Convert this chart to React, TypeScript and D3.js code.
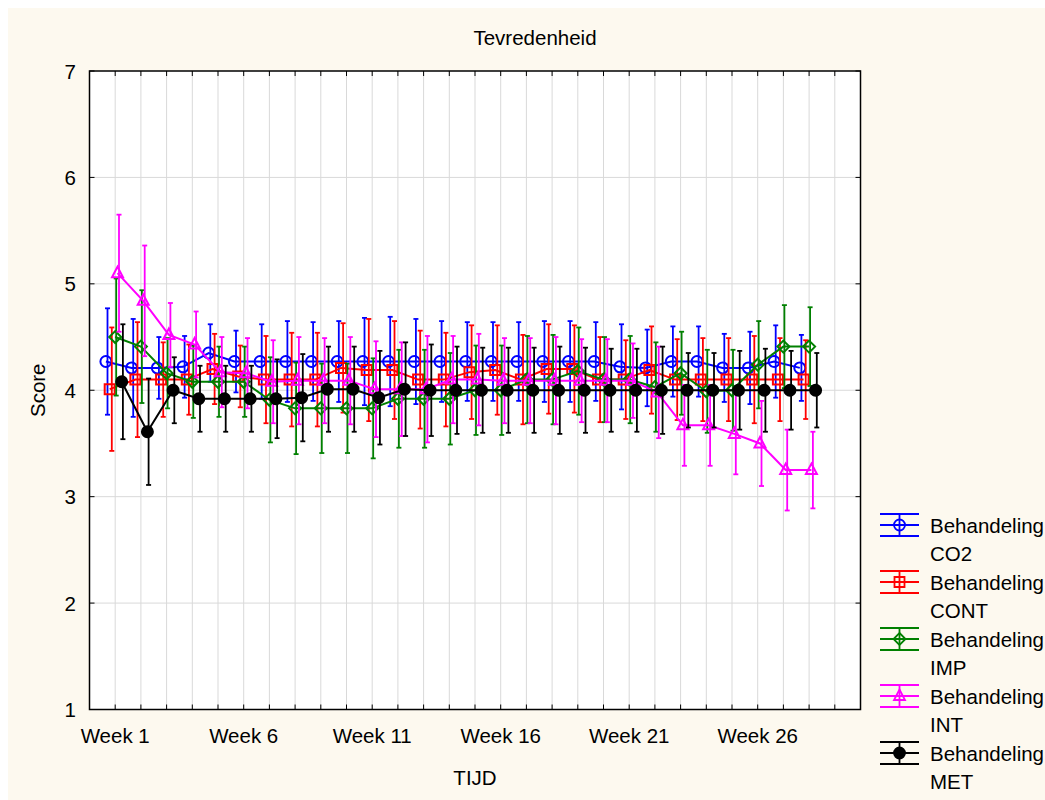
import React from "react";
import * as d3 from "d3";

// Weeks on the TIJD axis and the labelled ones
const weeks = [1, 2, 3, 4, 5, 6, 7, 8, 9, 10, 11, 12, 13, 14, 15, 16, 17, 18, 19, 20, 21, 22, 23, 24, 25, 26, 27, 28];
const gridWeeks = [1, 2, 3, 4, 5, 6, 7, 8, 9, 10, 11, 12, 13, 14, 15, 16, 17, 18, 19, 20, 21, 22, 23, 24, 25, 26, 27, 28, 29];
const labelWeeks = [1, 6, 11, 16, 21, 26];
const scoreTicks = [1, 2, 3, 4, 5, 6, 7];

// Mean score per week and half-width of the interval, per treatment group
const co2Mean = [4.27, 4.21, 4.21, 4.22, 4.35, 4.27, 4.27, 4.27, 4.27, 4.27, 4.27, 4.27, 4.27, 4.27, 4.27, 4.27, 4.27, 4.27, 4.27, 4.27, 4.22, 4.21, 4.27, 4.27, 4.21, 4.21, 4.27, 4.21];
const co2Ci = [0.5, 0.46, 0.29, 0.29, 0.27, 0.29, 0.35, 0.38, 0.37, 0.38, 0.41, 0.42, 0.4, 0.38, 0.37, 0.37, 0.37, 0.38, 0.38, 0.37, 0.4, 0.36, 0.33, 0.33, 0.32, 0.34, 0.34, 0.31];

const contMean = [4.01, 4.1, 4.1, 4.1, 4.2, 4.13, 4.1, 4.1, 4.1, 4.21, 4.19, 4.19, 4.1, 4.1, 4.17, 4.19, 4.1, 4.2, 4.2, 4.1, 4.1, 4.19, 4.1, 4.1, 4.1, 4.1, 4.1, 4.1];
const contCi = [0.58, 0.54, 0.35, 0.33, 0.33, 0.29, 0.41, 0.44, 0.44, 0.42, 0.48, 0.46, 0.46, 0.44, 0.44, 0.42, 0.42, 0.42, 0.41, 0.4, 0.37, 0.41, 0.38, 0.39, 0.39, 0.41, 0.39, 0.37];

const impMean = [4.5, 4.41, 4.16, 4.08, 4.08, 4.08, 3.91, 3.83, 3.83, 3.83, 3.83, 3.92, 3.92, 3.92, 4.0, 4.0, 4.1, 4.1, 4.18, 4.1, 4.1, 4.03, 4.16, 3.99, 4.0, 4.24, 4.41, 4.41];
const impCi = [0.55, 0.53, 0.33, 0.34, 0.33, 0.33, 0.4, 0.43, 0.42, 0.42, 0.47, 0.46, 0.46, 0.43, 0.42, 0.42, 0.41, 0.42, 0.41, 0.4, 0.41, 0.42, 0.39, 0.39, 0.38, 0.41, 0.39, 0.37];

const intMean = [5.1, 4.84, 4.52, 4.43, 4.17, 4.16, 4.08, 4.09, 4.09, 4.09, 4.01, 4.01, 4.01, 4.1, 4.1, 4.09, 4.09, 4.09, 4.09, 4.09, 4.09, 3.98, 3.67, 3.67, 3.59, 3.5, 3.25, 3.25];
const intCi = [0.55, 0.52, 0.3, 0.31, 0.33, 0.33, 0.39, 0.41, 0.4, 0.41, 0.45, 0.44, 0.5, 0.41, 0.43, 0.4, 0.4, 0.41, 0.39, 0.39, 0.35, 0.43, 0.38, 0.38, 0.38, 0.4, 0.38, 0.36];

const metMean = [4.08, 3.61, 4.0, 3.92, 3.92, 3.92, 3.92, 3.93, 4.01, 4.01, 3.93, 4.01, 4.0, 4.0, 4.0, 4.0, 4.0, 4.0, 4.0, 4.0, 4.0, 4.0, 4.0, 4.0, 4.0, 4.0, 4.0, 4.0];
const metCi = [0.54, 0.5, 0.31, 0.31, 0.31, 0.31, 0.37, 0.41, 0.4, 0.4, 0.44, 0.44, 0.43, 0.41, 0.4, 0.4, 0.4, 0.41, 0.4, 0.39, 0.39, 0.41, 0.35, 0.35, 0.37, 0.39, 0.37, 0.35];

const groupNames = ["CO2", "CONT", "IMP", "INT", "MET"];

type Marker = "circle" | "square" | "diamond" | "triangle" | "dot";

// Groups are drawn side by side around each week; bars sit a touch right of the markers
const series = [
  { name: groupNames[0], color: "#0000ff", marker: "circle" as Marker, shift: -9.3, barShift: -7.7, mean: co2Mean, ci: co2Ci },
  { name: groupNames[1], color: "#ff0000", marker: "square" as Marker, shift: -5.5, barShift: -3.4, mean: contMean, ci: contCi },
  { name: groupNames[2], color: "#008000", marker: "diamond" as Marker, shift: 0, barShift: 1, mean: impMean, ci: impCi },
  { name: groupNames[3], color: "#ff00ff", marker: "triangle" as Marker, shift: 2.3, barShift: 3.8, mean: intMean, ci: intCi },
  { name: groupNames[4], color: "#000000", marker: "dot" as Marker, shift: 6.5, barShift: 7.7, mean: metMean, ci: metCi },
];

const W = 1037;
const H = 792;
const plot = { left: 81.5, top: 63, right: 852.5, bottom: 701.5 };
const FONT = "'Liberation Sans', Arial, sans-serif";
const FS = 20.5;

function markerPath(m: Marker, cx: number, cy: number): string {
  switch (m) {
    case "circle":
    case "dot": {
      const r = 5.5;
      return `M${cx - r},${cy}a${r},${r} 0 1,0 ${2 * r},0a${r},${r} 0 1,0 ${-2 * r},0Z`;
    }
    case "square":
      return `M${cx - 5},${cy - 5}h10v10h-10Z`;
    case "diamond":
      return `M${cx},${cy - 6}L${cx + 6},${cy}L${cx},${cy + 6}L${cx - 6},${cy}Z`;
    case "triangle":
      return `M${cx},${cy - 6.5}L${cx + 5.5},${cy + 4}L${cx - 5.5},${cy + 4}Z`;
  }
}

export default function App() {
  const x = d3.scaleLinear().domain([0, 30]).range([plot.left, plot.right]);
  const y = d3.scaleLinear().domain([1, 7]).range([plot.bottom, plot.top]);

  const cap = 2.5;
  const lineW = 2;
  const barW = 1.8;

  return (
    <svg
      width={W}
      height={H}
      style={{ position: "fixed", left: 8, top: 8, display: "block" }}
      fontFamily={FONT}
    >
      <rect x={0} y={0} width={W} height={H} fill="#fdf9ef" />
      <rect
        x={plot.left}
        y={plot.top}
        width={plot.right - plot.left}
        height={plot.bottom - plot.top}
        fill="#ffffff"
      />

      {/* grid */}
      <g stroke="#d9d9d9" strokeWidth={1}>
        {gridWeeks.map((w) => (
          <line key={"gx" + w} x1={x(w)} x2={x(w)} y1={plot.top} y2={plot.bottom} />
        ))}
        {scoreTicks.slice(1, -1).map((v) => (
          <line key={"gy" + v} x1={plot.left} x2={plot.right} y1={y(v)} y2={y(v)} />
        ))}
      </g>

      {/* series */}
      {series.map((s) => {
        const px = (i: number) => x(weeks[i]) + s.shift;
        const bx = (i: number) => x(weeks[i]) + s.barShift;
        const line = d3
          .line<number>()
          .x((_, i) => px(i))
          .y((d) => y(d));
        return (
          <g key={s.name} stroke={s.color} fill="none">
            <g strokeWidth={barW}>
              {s.mean.map((m, i) => {
                const cx = bx(i);
                const y1 = y(m + s.ci[i]);
                const y2 = y(m - s.ci[i]);
                return (
                  <g key={i}>
                    <line x1={cx} x2={cx} y1={y1} y2={y2} />
                    <line x1={cx - cap} x2={cx + cap} y1={y1} y2={y1} />
                    <line x1={cx - cap} x2={cx + cap} y1={y2} y2={y2} />
                  </g>
                );
              })}
            </g>
            <path d={line(s.mean) || ""} strokeWidth={lineW} />
            {s.mean.map((m, i) => (
              <path
                key={"m" + i}
                d={markerPath(s.marker, px(i), y(m))}
                strokeWidth={lineW}
                fill={s.marker === "dot" ? s.color : "none"}
              />
            ))}
          </g>
        );
      })}

      {/* frame */}
      <rect
        x={plot.left}
        y={plot.top}
        width={plot.right - plot.left}
        height={plot.bottom - plot.top}
        fill="none"
        stroke="#000"
        strokeWidth={1.5}
      />
      <g stroke="#000" strokeWidth={1}>
        {gridWeeks.map((w) => (
          <g key={"t" + w}>
            <line x1={x(w)} x2={x(w)} y1={plot.bottom} y2={plot.bottom - 5} />
            <line x1={x(w)} x2={x(w)} y1={plot.top} y2={plot.top + 5} />
          </g>
        ))}
        {scoreTicks.map((v) => (
          <g key={"ty" + v}>
            <line x1={plot.left} x2={plot.left + 5} y1={y(v)} y2={y(v)} />
            <line x1={plot.right} x2={plot.right - 5} y1={y(v)} y2={y(v)} />
          </g>
        ))}
      </g>

      {/* axis labels */}
      <g fontSize={FS} fill="#000">
        {scoreTicks.map((v) => (
          <text key={"ly" + v} x={68} y={y(v) + 7.5} textAnchor="end">
            {v}
          </text>
        ))}
        {labelWeeks.map((w) => (
          <text key={"lx" + w} x={x(w)} y={734.5} textAnchor="middle">
            {"Week " + w}
          </text>
        ))}
        <text x={527} y={36.5} textAnchor="middle">
          Tevredenheid
        </text>
        <text x={(plot.left + plot.right) / 2} y={777} textAnchor="middle">
          TIJD
        </text>
        <text
          transform={`translate(37,${(plot.top + plot.bottom) / 2}) rotate(-90)`}
          textAnchor="middle"
        >
          Score
        </text>
      </g>

      {/* legend */}
      {series.map((s, i) => {
        const cy = 517 + i * 57;
        const lx1 = 872;
        const lx2 = 911;
        const mx = (lx1 + lx2) / 2;
        return (
          <g key={"lg" + s.name}>
            <g stroke={s.color} strokeWidth={barW} fill="none">
              <line x1={lx1} x2={lx2} y1={cy - 11} y2={cy - 11} />
              <line x1={lx1} x2={lx2} y1={cy} y2={cy} />
              <line x1={lx1} x2={lx2} y1={cy + 11} y2={cy + 11} />
              <line x1={mx} x2={mx} y1={cy - 11} y2={cy + 11} />
              <path
                d={markerPath(s.marker, mx, cy)}
                fill={s.marker === "dot" ? s.color : "none"}
              />
            </g>
            <text x={922} y={cy + 7.5} fontSize={FS} fill="#000">
              Behandeling
            </text>
            <text x={922} y={cy + 36} fontSize={FS} fill="#000">
              {s.name}
            </text>
          </g>
        );
      })}
    </svg>
  );
}
